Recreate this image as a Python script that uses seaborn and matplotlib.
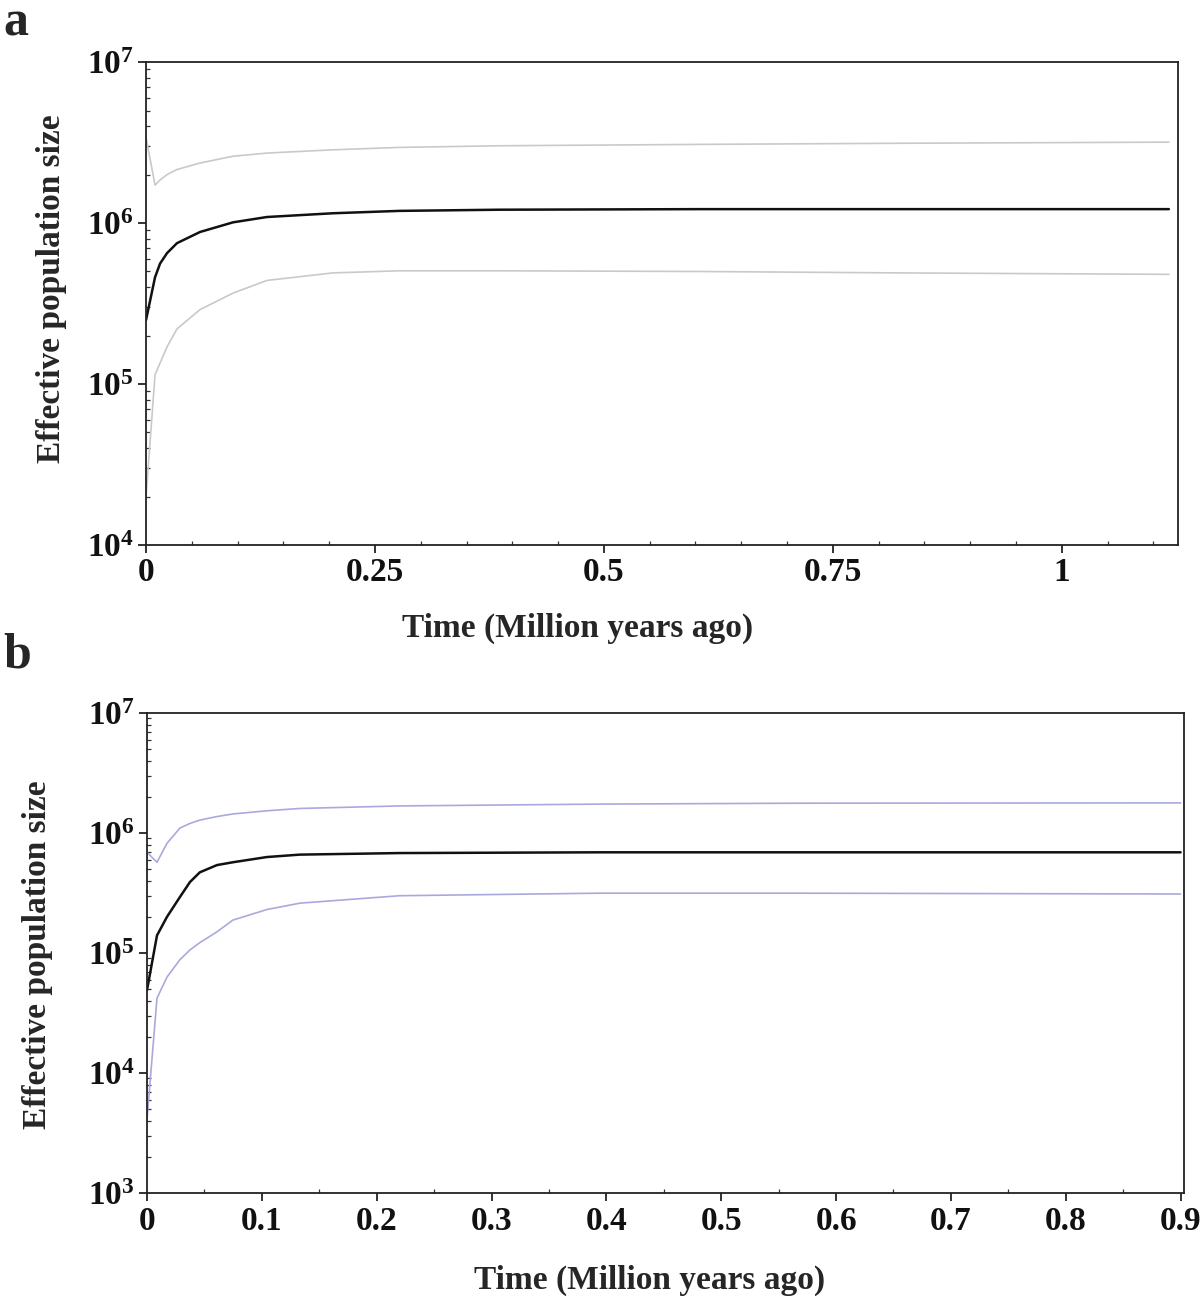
import matplotlib
matplotlib.use("Agg")
import matplotlib.pyplot as plt
import matplotlib.ticker as mticker
import numpy as np
import pandas as pd
import seaborn as sns

# ---------------- data ----------------
time_a = [0, 0.0098, 0.0153, 0.0229, 0.0338, 0.059, 0.095, 0.132, 0.204, 0.277,
          0.386, 0.605, 0.823, 1.117]
median_a = [2.5e5, 4.6e5, 5.6e5, 6.5e5, 7.5e5, 8.8e5, 1.01e6, 1.09e6, 1.15e6, 1.19e6,
            1.21e6, 1.22e6, 1.22e6, 1.22e6]
upper_a = [3.4e6, 1.72e6, 1.85e6, 2.0e6, 2.15e6, 2.36e6, 2.6e6, 2.72e6, 2.85e6, 2.95e6,
           3.02e6, 3.08e6, 3.13e6, 3.18e6]
lower_a = [2.0e4, 1.14e5, 1.35e5, 1.7e5, 2.2e5, 2.9e5, 3.67e5, 4.4e5, 4.9e5, 5.05e5,
           5.05e5, 5.0e5, 4.9e5, 4.8e5]

time_b = [0, 0.0087, 0.0174, 0.0287, 0.0374, 0.046, 0.0609, 0.0748, 0.1043, 0.1330,
          0.2200, 0.3939, 0.5678, 0.9]
median_b = [4.9e4, 1.4e5, 2.0e5, 2.93e5, 3.9e5, 4.7e5, 5.4e5, 5.7e5, 6.3e5, 6.6e5,
            6.8e5, 6.9e5, 6.9e5, 6.9e5]
upper_b = [6.9e5, 5.7e5, 8.2e5, 1.1e6, 1.2e6, 1.28e6, 1.37e6, 1.44e6, 1.53e6, 1.6e6,
           1.68e6, 1.74e6, 1.77e6, 1.78e6]
lower_b = [4.1e3, 4.2e4, 6.3e4, 8.8e4, 1.06e5, 1.22e5, 1.5e5, 1.88e5, 2.3e5, 2.6e5,
           3.0e5, 3.15e5, 3.15e5, 3.1e5]

xticks_a = [0, 0.25, 0.5, 0.75, 1]
xticklabels_a = ["0", "0.25", "0.5", "0.75", "1"]
xticks_b = [0, 0.1, 0.2, 0.3, 0.4, 0.5, 0.6, 0.7, 0.8, 0.9]
xticklabels_b = ["0", "0.1", "0.2", "0.3", "0.4", "0.5", "0.6", "0.7", "0.8", "0.9"]

xlabel = "Time (Million years ago)"
ylabel = "Effective population size"

# ---------------- style ----------------
sns.set_style("ticks")
plt.rcParams["font.family"] = ["Liberation Serif", "DejaVu Serif"]
plt.rcParams["font.weight"] = "bold"
plt.rcParams["mathtext.fontset"] = "custom"
plt.rcParams["mathtext.rm"] = "Liberation Serif:bold"
plt.rcParams["mathtext.bf"] = "Liberation Serif:bold"
plt.rcParams["mathtext.it"] = "Liberation Serif:bold"

fig = plt.figure(figsize=(12, 13.01), dpi=100)
ax1 = fig.add_axes([0.1217, 0.5811, 0.8600, 0.3712])
ax2 = fig.add_axes([0.1225, 0.0830, 0.8642, 0.3690])


def draw(ax, t, med, up, lo, band_color, xlim, ylim, xt, xtl, xl_pos, yl_pos):
    df = pd.DataFrame({"t": t, "med": med, "up": up, "lo": lo})
    sns.lineplot(data=df, x="t", y="up", ax=ax, color=band_color, lw=1.2)
    sns.lineplot(data=df, x="t", y="lo", ax=ax, color=band_color, lw=1.2)
    sns.lineplot(data=df, x="t", y="med", ax=ax, color="#111111", lw=1.8)
    ax.set_yscale("log")
    ax.set_xlim(*xlim)
    ax.set_ylim(*ylim)
    ax.set_xticks(xt)
    ax.set_xticklabels(xtl)
    ax.xaxis.set_minor_locator(mticker.MultipleLocator(0.05))
    ax.yaxis.set_major_locator(mticker.LogLocator(base=10, numticks=20))
    ax.yaxis.set_minor_locator(mticker.LogLocator(base=10, subs=np.arange(2, 10), numticks=20))
    ax.yaxis.set_major_formatter(mticker.FuncFormatter(
        lambda v, p: r"$\mathbf{10^{%d}}$" % int(round(np.log10(v)))))
    ax.yaxis.set_minor_formatter(mticker.NullFormatter())
    ax.tick_params(axis="both", which="major", direction="out", length=6, width=1.2,
                   labelsize=24, pad=3, colors="#111111")
    ax.tick_params(axis="both", which="minor", direction="in", length=3, width=0.9,
                   colors="#333333")
    for lab in ax.get_xticklabels():
        lab.set_fontweight("bold")
    for s in ax.spines.values():
        s.set_visible(True)
        s.set_color("#222222")
        s.set_linewidth(1.3)
    ax.set_xlabel(xlabel, fontsize=24, fontweight="bold")
    ax.set_ylabel(ylabel, fontsize=24, fontweight="bold")
    ax.xaxis.set_label_coords(*xl_pos)
    ax.yaxis.set_label_coords(*yl_pos)


draw(ax1, time_a, median_a, upper_a, lower_a, "#c9c9c9",
     (0, 1.127), (1e4, 1e7), xticks_a, xticklabels_a, (0.418, -0.140), (-0.077, 0.530))
draw(ax2, time_b, median_b, upper_b, lower_b, "#a9a9df",
     (0, 0.903), (1e3, 1e7), xticks_b, xticklabels_b, (0.485, -0.150), (-0.091, 0.496))

fig.text(0.003, 0.9725, "a", fontsize=36, fontweight="bold", va="baseline", ha="left")
fig.text(0.003, 0.4866, "b", fontsize=36, fontweight="bold", va="baseline", ha="left")

fig.savefig("out.png", dpi=100, facecolor="white")
